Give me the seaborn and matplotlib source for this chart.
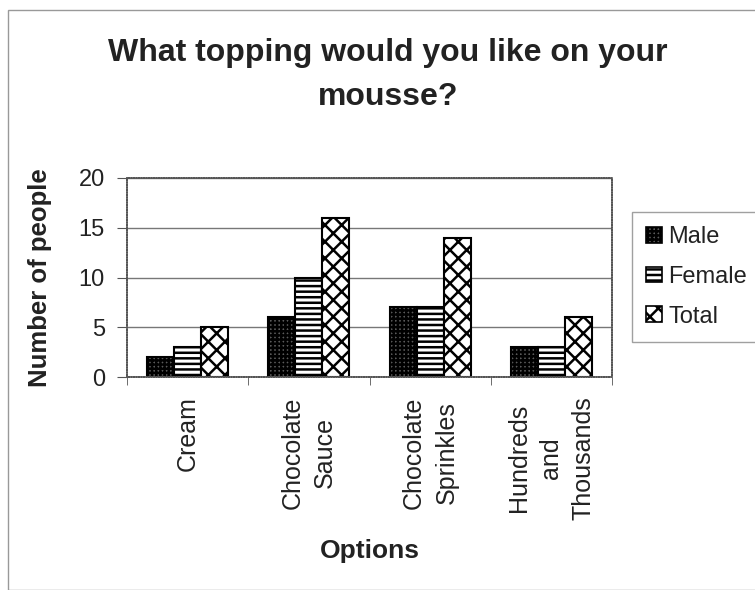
import pandas as pd
import numpy as np
import matplotlib
matplotlib.use('Agg')
import matplotlib.pyplot as plt
import seaborn as sns
from matplotlib.patches import Rectangle

options = ['Cream', 'Chocolate\nSauce', 'Chocolate\nSprinkles', 'Hundreds\nand\nThousands']
male = [2, 6, 7, 3]
female = [3, 10, 7, 3]
total = [5, 16, 14, 6]
series = ['Male', 'Female', 'Total']

df = pd.DataFrame({
    'Options': options * 3,
    'Group': ['Male'] * 4 + ['Female'] * 4 + ['Total'] * 4,
    'Count': male + female + total,
})

sns.set_style('white')
plt.rcParams['font.family'] = ['Liberation Sans', 'DejaVu Sans']
plt.rcParams['hatch.linewidth'] = 1.8

fig = plt.figure(figsize=(7.55, 5.9), dpi=100)
ax = fig.add_axes([127 / 755, 1 - 377 / 590, 485 / 755, 199 / 590])

sns.barplot(data=df, x='Options', y='Count', hue='Group', hue_order=series,
            order=options, width=0.67, edgecolor='black', linewidth=1.5,
            ax=ax, legend=False, palette=['white', 'white', 'white'])

# pattern fills like the old excel chart
styles = {
    'Male': ('#5a5a5a', '++++'),
    'Female': ('white', '---'),
    'Total': ('white', 'xx'),
}
for container, name in zip(ax.containers, series):
    fc, h = styles[name]
    for bar in container:
        bar.set_facecolor(fc)
        bar.set_hatch(h)
        bar.set_edgecolor('black')

ax.set_ylim(0, 20)
ax.set_xlim(-0.5, 3.5)
ax.set_yticks([0, 5, 10, 15, 20])
ax.yaxis.grid(True, color='#777777', linewidth=1)
ax.set_axisbelow(True)
for s in ax.spines.values():
    s.set_color('#555555')
    s.set_linewidth(1.2)
    s.set_linestyle((0, (1, 0.5)))

ax.set_xticks([0, 1, 2, 3])
ax.set_xticklabels(options, rotation=90, fontsize=18, ha='center', va='top',
                   multialignment='center', linespacing=1.45, color='#222222')
ax.xaxis.set_minor_locator(matplotlib.ticker.FixedLocator([-0.5, 0.5, 1.5, 2.5, 3.5]))
ax.tick_params(axis='x', which='major', length=0, pad=14)
ax.tick_params(axis='x', which='minor', length=6, direction='out', color='#555555')
ax.tick_params(axis='y', length=7, direction='out', color='#555555', labelsize=17,
               pad=9, labelcolor='#222222')
ax.yaxis.set_ticks_position('left')
ax.xaxis.set_ticks_position('bottom')

ax.set_xlabel('Options', fontsize=19, fontweight='bold', color='#222222')
ax.set_ylabel('Number of people', fontsize=18.5, fontweight='bold', color='#222222')
ax.xaxis.set_label_coords((370 - 127) / 485, (377 - 539) / 199)
ax.yaxis.set_label_coords((52 - 127) / 485, 0.5)

fig.text(388 / 755, 1 - 75 / 590, 'What topping would you like on your\nmousse?',
         ha='center', va='center', fontsize=23, fontweight='bold',
         linespacing=1.6, color='#222222')

handles = [Rectangle((0, 0), 1, 1, facecolor=styles[n][0], hatch=styles[n][1],
                     edgecolor='black', linewidth=1.2) for n in series]
fig.legend(handles, series, loc='upper left', bbox_to_anchor=(632 / 755, 1 - 212 / 590),
           frameon=True, fontsize=17, handlelength=0.65, handleheight=0.65,
           handletextpad=0.3, labelspacing=0.75, borderpad=0.6, borderaxespad=0,
           fancybox=False, edgecolor='#888888', labelcolor='#222222')

fig.patches.append(Rectangle((8 / 755, 0), 1, 1 - 10 / 590, transform=fig.transFigure,
                             fill=False, edgecolor='#999999', linewidth=1))

fig.savefig('out.png', dpi=100)
